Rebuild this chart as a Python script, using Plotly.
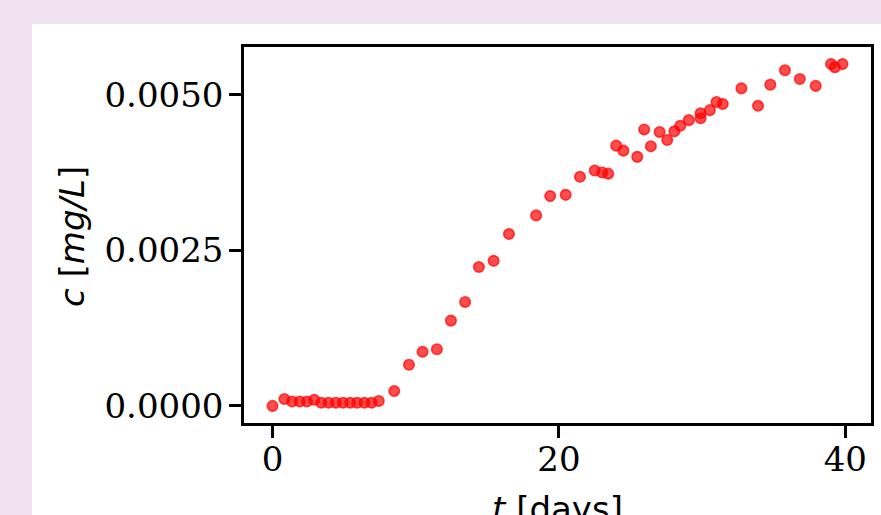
import plotly.graph_objects as go

# Measured concentration over time
t_days = [0, 0.83, 1.37, 1.9, 2.41, 2.92, 3.41, 3.92, 4.43, 4.92, 5.43, 5.91, 6.42,
          6.91, 7.42, 8.5, 9.53, 10.48, 11.48, 12.46, 13.45, 14.41, 15.44, 16.51,
          18.41, 19.39, 20.47, 21.47, 22.5, 23.02, 23.44, 24.0, 24.5, 25.47, 25.95,
          26.42, 27.03, 27.56, 28.06, 28.47, 29.07, 29.89, 29.89, 30.54, 31.0, 31.44,
          32.74, 33.9, 34.76, 35.78, 36.82, 37.93, 39.0, 39.27, 39.8]
c_mgL = [0.0, 0.00011, 0.00007, 0.00007, 0.00007, 0.0001, 0.00005, 0.00005, 0.00005,
         0.00005, 0.00005, 0.00005, 0.00005, 0.00005, 0.00008, 0.00024, 0.00066,
         0.00087, 0.00091, 0.00137, 0.00167, 0.00223, 0.00233, 0.00276, 0.00306,
         0.00337, 0.00339, 0.00368, 0.00378, 0.00375, 0.00373, 0.00418, 0.0041,
         0.004, 0.00444, 0.00417, 0.0044, 0.00427, 0.00441, 0.0045, 0.00459, 0.00462,
         0.0047, 0.00475, 0.00488, 0.00485, 0.0051, 0.00482, 0.00516, 0.00539,
         0.00525, 0.00514, 0.00549, 0.00544, 0.00549]

x_ticks = [0, 20, 40]
y_ticks = [0.0, 0.0025, 0.005]
y_tick_text = ["0.0000", "0.0025", "0.0050"]


def padded(vals, frac=0.05):
    lo, hi = min(vals), max(vals)
    pad = (hi - lo) * frac
    return [lo - pad, hi + pad]


W, H = 881, 515
L, R, T, B = 244, 10, 47, 92
pw, ph = W - L - R, H - T - B

fig = go.Figure()
fig.add_trace(go.Scatter(
    x=t_days, y=c_mgL, mode="markers",
    marker=dict(size=10.5, color="rgba(255,0,0,0.7)",
                line=dict(color="rgba(255,0,0,0.7)", width=1.6)),
    showlegend=False, hoverinfo="skip",
))

# white card behind the axes
fig.add_shape(type="rect", xref="paper", yref="paper", layer="below",
              x0=(32 - L) / pw, x1=(W - L) / pw + 0.01,
              y0=-(B + 5) / ph, y1=(ph + T - 24) / ph,
              fillcolor="white", line=dict(width=0))

label_font = dict(family="DejaVu Sans", size=34, color="black")

axis_common = dict(
    showline=True, mirror=True, linecolor="black", linewidth=2.5,
    ticks="outside", ticklen=12, tickwidth=2.5, tickcolor="black",
    showgrid=False, zeroline=False,
    tickfont=dict(family="DejaVu Serif", size=34, color="black"),
)

fig.update_xaxes(range=padded(t_days), tickvals=x_ticks, ticklabelstandoff=-8,
                 **axis_common)
fig.update_yaxes(range=padded(c_mgL), tickvals=y_ticks, ticktext=y_tick_text,
                 ticklabelstandoff=-1, **axis_common)

# axis titles
fig.add_annotation(text="<i>t</i> [days]", xref="paper", yref="paper",
                   x=0.5, y=-(487 - (T + ph)) / ph, xanchor="center", yanchor="top",
                   showarrow=False, font=label_font)
fig.add_annotation(text="<i>c</i> [<i>mg/L</i>]", xref="paper", yref="paper",
                   x=(72 - L) / pw, y=(T + ph - 236) / ph, xanchor="center",
                   yanchor="middle", textangle=-90, showarrow=False, font=label_font)

fig.update_layout(
    width=W, height=H,
    margin=dict(l=L, r=R, t=T, b=B, autoexpand=False),
    paper_bgcolor="#EFE1EF", plot_bgcolor="white",
)

fig.write_html("out.html")
